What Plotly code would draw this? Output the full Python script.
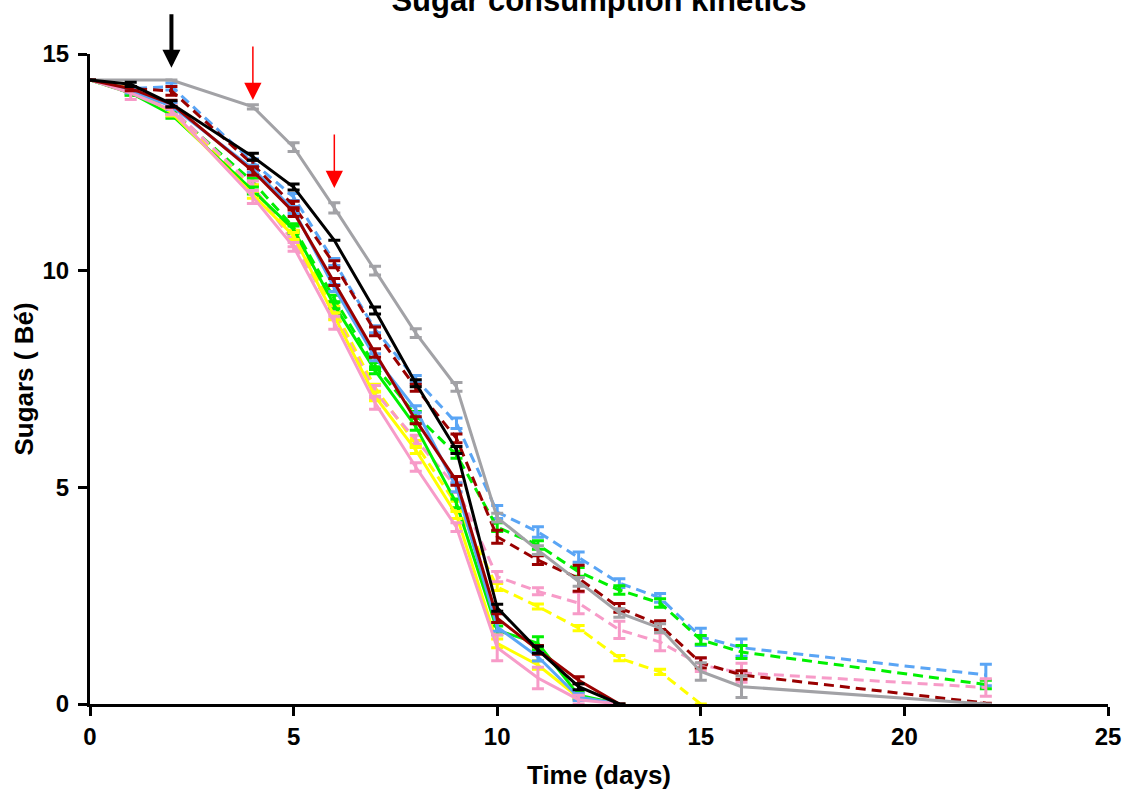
import plotly.graph_objects as go

# ---------------- data ----------------
days_short = [0, 1, 2, 4, 5, 6, 7, 8, 9, 10, 11, 12, 13]
days_long = [0, 1, 2, 4, 5, 6, 7, 8, 9, 10, 11, 12, 13, 14, 15, 16, 22]
days_gray = [0, 2, 4, 5, 6, 7, 8, 9, 10, 11, 12, 13, 14, 15, 16, 22]
days_yellow_dash = [0, 1, 2, 4, 5, 6, 7, 8, 9, 10, 11, 12, 13, 14, 15]

gray = [14.4, 14.4, 13.78, 12.85, 11.45, 10.0, 8.56, 7.32, 4.3, 3.55, 2.82, 2.1, 1.75, 0.75, 0.4, 0.0]
gray_err = [0, 0, 0.05, 0.1, 0.12, 0.1, 0.1, 0.1, 0.1, 0.1, 0.1, 0.1, 0.1, 0.2, 0.25, 0]

black = [14.4, 14.3, 13.85, 12.63, 11.93, 10.7, 9.08, 7.4, 5.86, 2.22, 1.25, 0.4, 0.0]
black_err = [0, 0.05, 0.07, 0.08, 0.07, 0.0, 0.08, 0.08, 0.08, 0.08, 0.08, 0.07, 0]

darkred = [14.4, 14.2, 13.85, 12.3, 11.35, 9.74, 8.1, 6.55, 5.15, 1.98, 1.25, 0.55, 0.0]
darkred_err = [0, 0.05, 0.08, 0.1, 0.1, 0.08, 0.1, 0.08, 0.1, 0.1, 0.1, 0.08, 0]
darkred_dash = [14.4, 14.2, 14.15, 12.45, 11.5, 10.15, 8.6, 7.3, 6.13, 3.86, 3.32, 2.9, 2.22, 1.82, 0.95, 0.67, 0.02]
darkred_dash_err = [0, 0.05, 0.1, 0.1, 0.1, 0.08, 0.1, 0.08, 0.1, 0.15, 0.1, 0.3, 0.1, 0.1, 0.12, 0.1, 0]

blue = [14.4, 14.15, 13.8, 12.35, 11.4, 9.6, 8.0, 6.8, 5.0, 1.78, 1.09, 0.16, 0.0]
blue_err = [0, 0.05, 0.08, 0.08, 0.08, 0.08, 0.08, 0.08, 0.1, 0.1, 0.1, 0.08, 0]
blue_dash = [14.4, 14.2, 14.25, 12.5, 11.7, 10.2, 8.65, 7.5, 6.48, 4.43, 3.97, 3.39, 2.79, 2.45, 1.55, 1.3, 0.67]
blue_dash_err = [0, 0.05, 0.08, 0.08, 0.08, 0.08, 0.08, 0.08, 0.12, 0.15, 0.12, 0.12, 0.1, 0.1, 0.2, 0.2, 0.25]

green = [14.4, 14.1, 13.6, 11.85, 10.95, 9.2, 7.7, 6.4, 4.63, 1.7, 1.4, 0.2, 0.0]
green_err = [0, 0.05, 0.08, 0.08, 0.08, 0.08, 0.08, 0.08, 0.1, 0.1, 0.15, 0.08, 0]
green_dash = [14.4, 14.1, 13.7, 12.05, 11.0, 9.35, 7.8, 6.67, 5.75, 4.08, 3.67, 3.05, 2.63, 2.33, 1.48, 1.2, 0.45]
green_dash_err = [0, 0.05, 0.08, 0.08, 0.08, 0.08, 0.08, 0.08, 0.08, 0.1, 0.1, 0.1, 0.1, 0.1, 0.1, 0.15, 0.1]

yellow = [14.4, 14.2, 13.65, 11.75, 10.8, 8.95, 7.1, 5.86, 4.36, 1.4, 0.9, 0.15, 0.0]
yellow_err = [0, 0.05, 0.08, 0.08, 0.08, 0.08, 0.1, 0.08, 0.08, 0.1, 0.1, 0.05, 0]
yellow_dash = [14.4, 14.15, 13.7, 11.9, 10.85, 9.1, 7.3, 6.0, 4.6, 2.7, 2.25, 1.75, 1.06, 0.74, 0.0]
yellow_dash_err = [0, 0.05, 0.08, 0.08, 0.08, 0.08, 0.08, 0.08, 0.08, 0.08, 0.06, 0.06, 0.06, 0.06, 0]

pink = [14.4, 14.1, 13.7, 11.7, 10.55, 8.8, 6.95, 5.47, 4.08, 1.3, 0.6, 0.1, 0.0]
pink_err = [0, 0.15, 0.1, 0.15, 0.1, 0.15, 0.15, 0.1, 0.1, 0.3, 0.25, 0.1, 0]
pink_dash = [14.4, 14.15, 13.75, 11.95, 10.65, 9.0, 7.2, 6.1, 5.0, 2.94, 2.6, 2.33, 1.71, 1.43, 0.9, 0.72, 0.38]
pink_dash_err = [0, 0.1, 0.1, 0.12, 0.1, 0.12, 0.15, 0.1, 0.12, 0.12, 0.08, 0.25, 0.2, 0.2, 0.15, 0.22, 0.2]

C_GRAY = "#a2a2a6"
C_BLACK = "#000000"
C_DARKRED = "#990000"
C_BLUE = "#5aa5f5"
C_GREEN = "#00f000"
C_YELLOW = "#ffff00"
C_PINK = "#f79bc8"

DASH = "10px,6px"
series = [
    (days_long, blue_dash, blue_dash_err, C_BLUE, DASH),
    (days_long, green_dash, green_dash_err, C_GREEN, DASH),
    (days_yellow_dash, yellow_dash, yellow_dash_err, C_YELLOW, DASH),
    (days_long, pink_dash, pink_dash_err, C_PINK, DASH),
    (days_long, darkred_dash, darkred_dash_err, C_DARKRED, DASH),
    (days_gray, gray, gray_err, C_GRAY, "solid"),
    (days_short, green, green_err, C_GREEN, "solid"),
    (days_short, yellow, yellow_err, C_YELLOW, "solid"),
    (days_short, blue, blue_err, C_BLUE, "solid"),
    (days_short, pink, pink_err, C_PINK, "solid"),
    (days_short, darkred, darkred_err, C_DARKRED, "solid"),
    (days_short, black, black_err, C_BLACK, "solid"),
]

fig = go.Figure()
for xs, ys, es, col, dash in series:
    fig.add_trace(go.Scatter(
        x=xs, y=ys, mode="lines",
        line=dict(color=col, width=3, dash=dash),
        error_y=dict(type="data", array=es, visible=True, color=col, thickness=3, width=6),
        showlegend=False,
    ))

FONT = "Arial, Liberation Sans, sans-serif"

# arrows
fig.add_annotation(x=2, y=14.68, ax=0, ay=-55, text="", showarrow=True,
                   arrowhead=2, arrowwidth=4, arrowsize=0.9, arrowcolor="black")
fig.add_annotation(x=4, y=13.94, ax=0, ay=-55, text="", showarrow=True,
                   arrowhead=2, arrowwidth=1.5, arrowsize=2.3, arrowcolor="red")
fig.add_annotation(x=6, y=11.91, ax=0, ay=-55, text="", showarrow=True,
                   arrowhead=2, arrowwidth=1.5, arrowsize=2.3, arrowcolor="red")

fig.update_layout(
    width=1125, height=791,
    margin=dict(l=90, r=17, t=54, b=87, autoexpand=False),
    paper_bgcolor="white", plot_bgcolor="white",
    font=dict(family=FONT, color="black"),
    title=dict(text="Sugar consumption kinetics", x=0.5, xref="paper",
               y=1, yref="container", yanchor="middle",
               font=dict(size=31, weight="bold", family=FONT)),
)
fig.update_xaxes(
    range=[0, 25], tickvals=[0, 5, 10, 15, 20, 25],
    showgrid=False, zeroline=False, automargin=False,
    showline=True, linewidth=3, linecolor="black",
    ticks="outside", ticklen=9, tickwidth=3, tickcolor="black",
    tickfont=dict(size=24, weight="bold", family=FONT),
    title=dict(text="Time (days)", font=dict(size=26, weight="bold", family=FONT), standoff=18),
)
fig.update_yaxes(
    range=[0, 15], tickvals=[0, 5, 10, 15],
    showgrid=False, zeroline=False, automargin=False,
    showline=True, linewidth=3, linecolor="black",
    ticks="outside", ticklen=9, tickwidth=3, tickcolor="black",
    tickfont=dict(size=24, weight="bold", family=FONT),
    ticklabelstandoff=4,
    title=dict(text="Sugars ( Bé)", font=dict(size=26, weight="bold", family=FONT), standoff=2),
)

fig.write_html("out.html")
